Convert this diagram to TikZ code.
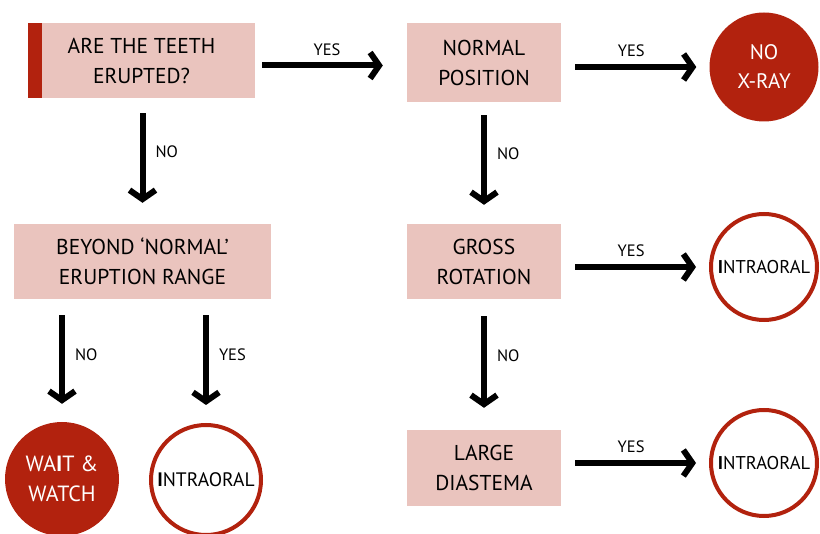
\documentclass[tikz,border=0pt]{standalone}
\usepackage{fontspec}
\setmainfont{PT Sans}
\usepackage{xcolor}
\usepackage{tikz}
\usetikzlibrary{arrows.meta}

\definecolor{boxpink}{RGB}{234,196,190}
\definecolor{darkred}{RGB}{178,34,14}

\begin{document}
\begin{tikzpicture}[x=1pt,y=-1pt,
    question/.style={fill=boxpink, inner sep=0pt, align=center,
      font=\fontsize{21.5}{30}\selectfont},
    endfull/.style={circle, fill=darkred, text=white, inner sep=0pt,
      minimum size=110pt, align=center, font=\fontsize{21}{29}\selectfont},
    endring/.style={circle, draw=darkred, line width=4pt, fill=white,
      inner sep=0pt, minimum size=106pt, font=\fontsize{18.5}{20}\selectfont},
    arr/.style={line width=6pt, -{Straight Barb[length=9pt,width=26pt]}},
    lab/.style={font=\fontsize{16.5}{18}\selectfont, inner sep=3pt}]
  \useasboundingbox (0,0) rectangle (820,534);

  % questions
  \node[question, minimum width=227pt, minimum height=75pt] (erupted) at (141.5,60.5) {ARE THE TEETH\\ERUPTED?};
  \fill[darkred] (erupted.north west) rectangle ([xshift=14pt]erupted.south west);
  \node[question, minimum width=154pt, minimum height=79pt] (normal) at (484,62.5) {NORMAL\\POSITION};
  \node[question, minimum width=257pt, minimum height=75pt] (beyond) at (142.5,261.5) {BEYOND ‘NORMAL’\\ERUPTION RANGE};
  \node[question, minimum width=154pt, minimum height=75pt] (gross) at (484,261.5) {GROSS\\ROTATION};
  \node[question, minimum width=154pt, minimum height=76pt] (diastema) at (484,468) {LARGE\\DIASTEMA};

  % outcomes
  \node[endfull, minimum size=109pt] (noxray) at (764,67) {NO\\X-RAY};
  \node[endring] (intraA) at (764,267) {{\bfseries I}NTRAORAL};
  \node[endring] (intraB) at (764,463) {{\bfseries I}NTRAORAL};
  \node[endfull, minimum size=114pt, font=\fontsize{22}{30}\selectfont] (wait) at (62,479) {WA{\bfseries I}T \&\\WATCH};
  \node[endring, minimum size=110pt, font=\fontsize{19.5}{20}\selectfont] (intraC) at (206,480) {{\bfseries I}NTRAORAL};

  % yes arrows
  \draw[arr, shorten <=7pt, shorten >=24pt] ([yshift=-5pt]erupted.east) -- ([yshift=-5pt]erupted.east -| normal.west)
    node[lab, midway, above, xshift=-4pt, yshift=4pt] {YES};
  \draw[arr, shorten <=14pt, shorten >=13pt] (normal.east |- noxray) -- (noxray.west)
    node[lab, midway, above, xshift=-4pt, yshift=4pt] {YES};
  \draw[arr, shorten <=14pt, shorten >=13pt] (gross.east |- intraA) -- (intraA.west)
    node[lab, midway, above, xshift=-4pt, yshift=4pt] {YES};
  \draw[arr, shorten <=14pt, shorten >=13pt] (diastema.east |- intraB) -- (intraB.west)
    node[lab, midway, above, xshift=-4pt, yshift=4pt] {YES};

  % no arrows
  \draw[arr, shorten <=15pt, shorten >=21pt] (erupted.south -| beyond.north) -- (beyond.north)
    node[lab, midway, right, xshift=7pt, yshift=9pt] {NO};
  \draw[arr, shorten <=13pt, shorten >=19pt] (normal.south) -- (gross.north)
    node[lab, midway, right, xshift=7pt, yshift=9pt] {NO};
  \draw[arr, shorten <=17pt, shorten >=22pt] (gross.south) -- (diastema.north)
    node[lab, midway, right, xshift=7pt, yshift=9pt] {NO};
  \draw[arr, shorten <=16pt, shorten >=18pt] (beyond.south -| wait.north) -- (wait.north)
    node[lab, midway, right, xshift=7pt, yshift=6pt] {NO};
  \draw[arr, shorten <=16pt, shorten >=18pt] (beyond.south -| intraC.north) -- (intraC.north)
    node[lab, midway, right, xshift=7pt, yshift=6pt] {YES};
\end{tikzpicture}
\end{document}
